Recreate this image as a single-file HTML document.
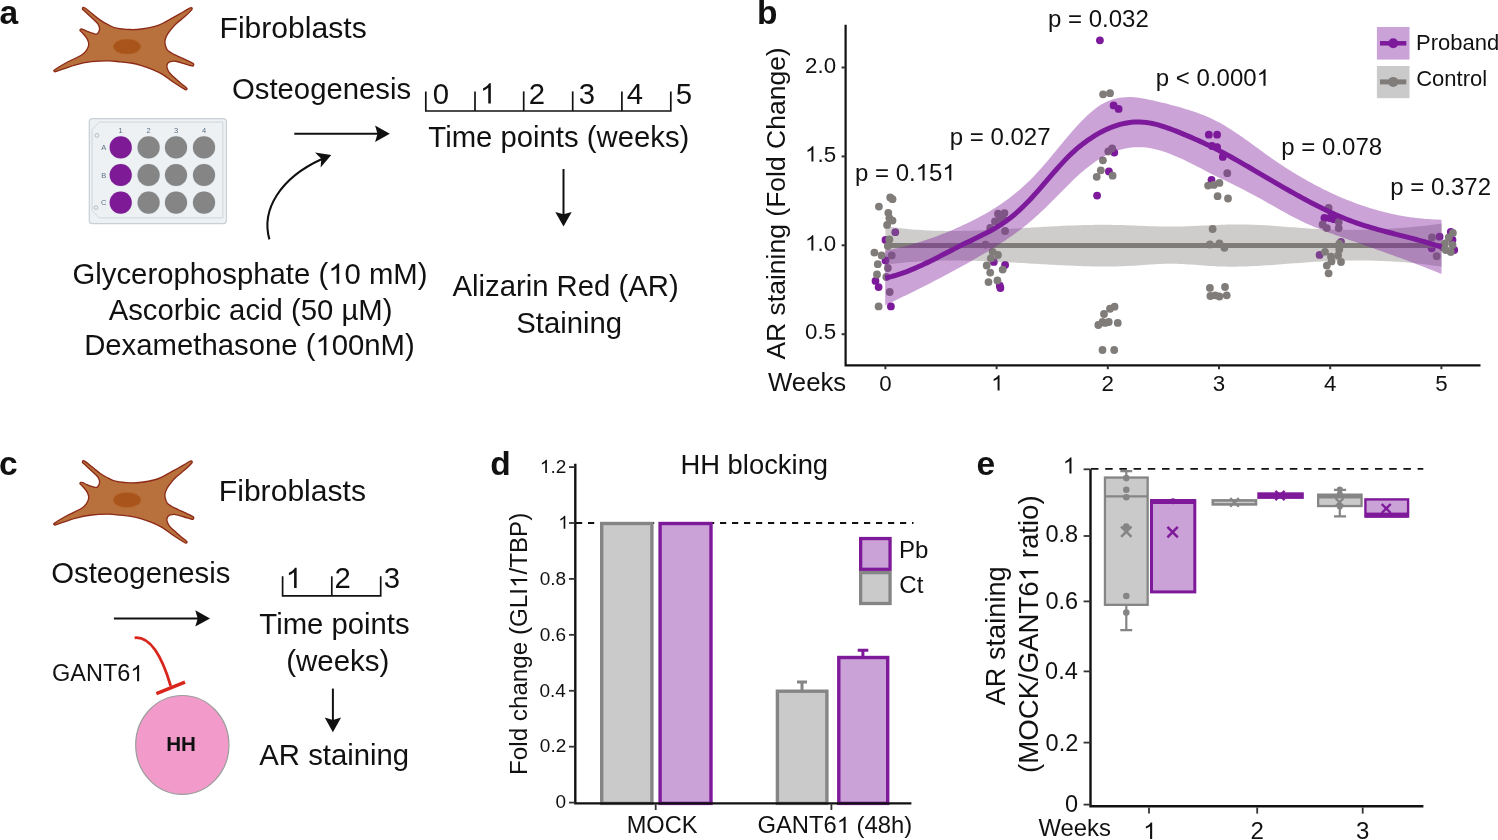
<!DOCTYPE html>
<html><head><meta charset="utf-8"><title>Figure</title>
<style>
html,body{margin:0;padding:0;background:#fff;}
body{width:1498px;height:840px;overflow:hidden;}
svg{display:block;font-family:"Liberation Sans",sans-serif;will-change:transform;}
</style></head>
<body>
<svg width="1498" height="840" viewBox="0 0 1498 840">
<rect width="1498" height="840" fill="#fff"/>
<text x="-0.60" y="23.90" font-size="33.5" font-weight="bold" fill="#111111">a</text>
<g transform="translate(40,0) scale(0.13351)">
<path d="M318,68 C319.0,64.7 315.2,46.5 337,60 C358.8,73.5 419.8,128.0 449,149 C478.2,170.0 491.2,175.7 512,186 C532.8,196.3 547.0,205.2 574,211 C601.0,216.8 643.0,220.0 674,221 C705.0,222.0 729.0,220.8 760,217 C791.0,213.2 833.3,205.2 860,198 C886.7,190.8 900.0,183.5 920,174 C940.0,164.5 960.0,152.0 980,141 C1000.0,130.0 1021.3,118.5 1040,108 C1058.7,97.5 1077.7,86.2 1092,78 C1106.3,69.8 1118.2,61.8 1126,59 C1133.8,56.2 1137.7,58.2 1139,61 C1140.3,63.8 1143.0,65.5 1134,76 C1125.0,86.5 1104.7,106.5 1085,124 C1065.3,141.5 1034.8,163.0 1016,181 C997.2,199.0 983.0,218.0 972,232 C961.0,246.0 955.8,253.7 950,265 C944.2,276.3 939.2,289.2 937,300 C934.8,310.8 934.3,317.7 937,330 C939.7,342.3 945.0,362.8 953,374 C961.0,385.2 974.5,390.5 985,397 C995.5,403.5 1000.2,405.3 1016,413 C1031.8,420.7 1060.7,434.0 1080,443 C1099.3,452.0 1120.5,461.3 1132,467 C1143.5,472.7 1146.0,473.3 1149,477 C1152.0,480.7 1151.7,486.2 1150,489 C1148.3,491.8 1150.7,496.0 1139,494 C1127.3,492.0 1100.5,482.8 1080,477 C1059.5,471.2 1033.2,461.7 1016,459 C998.8,456.3 986.3,459.0 977,461 C967.7,463.0 964.3,466.2 960,471 C955.7,475.8 952.2,483.2 951,490 C949.8,496.8 949.8,502.8 953,512 C956.2,521.2 962.2,534.5 970,545 C977.8,555.5 986.7,562.5 1000,575 C1013.3,587.5 1035.3,607.5 1050,620 C1064.7,632.5 1079.5,643.0 1088,650 C1096.5,657.0 1099.7,658.5 1101,662 C1102.3,665.5 1099.2,670.0 1096,671 C1092.8,672.0 1098.0,677.2 1082,668 C1066.0,658.8 1027.0,634.2 1000,616 C973.0,597.8 946.7,575.0 920,559 C893.3,543.0 866.7,531.3 840,520 C813.3,508.7 786.7,499.0 760,491 C733.3,483.0 706.8,476.7 680,472 C653.2,467.3 627.0,465.7 599,463 C571.0,460.3 547.3,456.2 512,456 C476.7,455.8 428.7,456.8 387,462 C345.3,467.2 305.2,475.2 262,487 C218.8,498.8 153.3,525.2 128,533 C102.7,540.8 113.0,535.7 110,534 C107.0,532.3 95.0,534.0 110,523 C125.0,512.0 166.3,486.5 200,468 C233.7,449.5 287.0,427.7 312,412 C337.0,396.3 341.2,387.5 350,374 C358.8,360.5 364.7,345.2 365,331 C365.3,316.8 360.3,303.7 352,289 C343.7,274.3 323.7,253.0 315,243 C306.3,233.0 301.7,233.2 300,229 C298.3,224.8 301.7,219.5 305,218 C308.3,216.5 311.5,217.0 320,220 C328.5,223.0 340.7,230.2 356,236 C371.3,241.8 399.3,252.7 412,255 C424.7,257.3 426.3,255.5 432,250 C437.7,244.5 444.5,231.7 446,222 C447.5,212.3 444.5,201.0 441,192 C437.5,183.0 436.0,179.8 425,168 C414.0,156.2 390.7,135.7 375,121 C359.3,106.3 340.5,88.8 331,80 C321.5,71.2 317.0,71.3 318,68 Z" fill="#B8703D" stroke="#8C2A17" stroke-width="10" stroke-linejoin="round"/>
<ellipse cx="652" cy="349" rx="103" ry="56" fill="#A9541B" stroke="#B26322" stroke-width="5"/>
</g>
<text x="219.52" y="38.00" font-size="30.1" fill="#111111">Fibroblasts</text>
<g>
<rect x="89.3" y="118.6" width="137.1" height="105" rx="3" fill="#EEF1F3" stroke="#C8D0D5" stroke-width="1.2"/>
<path d="M99.3,122.1 L222.9,122.1 L222.9,217.9 L99.3,217.9 L92.1,210.5 L92.1,129.5 Z" fill="none" stroke="#CFD6DA" stroke-width="1"/>
<circle cx="96.9" cy="135.4" r="1.9" fill="none" stroke="#9AA7B0" stroke-width="0.7"/>
<circle cx="96" cy="207.6" r="1.9" fill="none" stroke="#9AA7B0" stroke-width="0.7"/>
<text x="120.7" y="133" font-size="7.5" text-anchor="middle" fill="#5C7184">1</text>
<text x="148.6" y="133" font-size="7.5" text-anchor="middle" fill="#5C7184">2</text>
<text x="176" y="133" font-size="7.5" text-anchor="middle" fill="#5C7184">3</text>
<text x="204" y="133" font-size="7.5" text-anchor="middle" fill="#5C7184">4</text>
<text x="103.8" y="150.1" font-size="7.5" text-anchor="middle" fill="#5C7184">A</text>
<circle cx="120.7" cy="147.4" r="11.6" fill="#DDE5EA"/>
<circle cx="120.7" cy="147.4" r="11.1" fill="#7E1A96"/>
<circle cx="148.6" cy="147.4" r="11.6" fill="#DDE5EA"/>
<circle cx="148.6" cy="147.4" r="11.1" fill="#858585"/>
<circle cx="176" cy="147.4" r="11.6" fill="#DDE5EA"/>
<circle cx="176" cy="147.4" r="11.1" fill="#858585"/>
<circle cx="204" cy="147.4" r="11.6" fill="#DDE5EA"/>
<circle cx="204" cy="147.4" r="11.1" fill="#858585"/>
<text x="103.8" y="177.7" font-size="7.5" text-anchor="middle" fill="#5C7184">B</text>
<circle cx="120.7" cy="175" r="11.6" fill="#DDE5EA"/>
<circle cx="120.7" cy="175" r="11.1" fill="#7E1A96"/>
<circle cx="148.6" cy="175" r="11.6" fill="#DDE5EA"/>
<circle cx="148.6" cy="175" r="11.1" fill="#858585"/>
<circle cx="176" cy="175" r="11.6" fill="#DDE5EA"/>
<circle cx="176" cy="175" r="11.1" fill="#858585"/>
<circle cx="204" cy="175" r="11.6" fill="#DDE5EA"/>
<circle cx="204" cy="175" r="11.1" fill="#858585"/>
<text x="103.8" y="205.29999999999998" font-size="7.5" text-anchor="middle" fill="#5C7184">C</text>
<circle cx="120.7" cy="202.6" r="11.6" fill="#DDE5EA"/>
<circle cx="120.7" cy="202.6" r="11.1" fill="#7E1A96"/>
<circle cx="148.6" cy="202.6" r="11.6" fill="#DDE5EA"/>
<circle cx="148.6" cy="202.6" r="11.1" fill="#858585"/>
<circle cx="176" cy="202.6" r="11.6" fill="#DDE5EA"/>
<circle cx="176" cy="202.6" r="11.1" fill="#858585"/>
<circle cx="204" cy="202.6" r="11.6" fill="#DDE5EA"/>
<circle cx="204" cy="202.6" r="11.1" fill="#858585"/>
</g>
<text x="232.01" y="98.80" font-size="29.3" fill="#111111">Osteogenesis</text>
<path d="M425.8,91.4 L425.8,111 L670.8,111 L670.8,91.4" fill="none" stroke="#111" stroke-width="1.7"/>
<line x1="475" y1="91.4" x2="475" y2="111" stroke="#111" stroke-width="1.7"/>
<line x1="523.7" y1="91.4" x2="523.7" y2="111" stroke="#111" stroke-width="1.7"/>
<line x1="572.7" y1="91.4" x2="572.7" y2="111" stroke="#111" stroke-width="1.7"/>
<line x1="621.9" y1="91.4" x2="621.9" y2="111" stroke="#111" stroke-width="1.7"/>
<text x="432.83" y="103.50" font-size="29.3" fill="#111111">0</text>
<text x="479.92" y="103.50" font-size="29.3" fill="#111111"> </text>
<path d="M763,0 L583,0 L583,1098 C540,1058 480,1018 412,979 C344,940 276,910 222,890 L222,1057 C320,1101 406,1156 486,1221 C566,1286 622,1349 646,1409 L763,1409 Z" transform="translate(479.92,103.50) scale(0.01431,-0.01431)" fill="#111111"/>
<text x="528.63" y="103.50" font-size="29.3" fill="#111111">2</text>
<text x="578.70" y="103.50" font-size="29.3" fill="#111111">3</text>
<text x="626.84" y="103.50" font-size="29.3" fill="#111111">4</text>
<text x="675.83" y="103.50" font-size="29.3" fill="#111111">5</text>
<line x1="294.3" y1="133.7" x2="378.5" y2="133.7" stroke="#111" stroke-width="2.0"/>
<path d="M389.8,133.7 L375.1,125.49999999999999 L377.5,133.7 L375.1,141.89999999999998 Z" fill="#111"/>
<text x="428.34" y="146.60" font-size="29.3" fill="#111111">Time points (weeks)</text>
<line x1="563.5" y1="169" x2="563.5" y2="215.3" stroke="#111" stroke-width="2.0"/>
<path d="M563.5,226.6 L555.3,211.9 L563.5,214.3 L571.7,211.9 Z" fill="#111"/>
<text x="452.43" y="296.40" font-size="29.3" fill="#111111">Alizarin Red (AR)</text>
<text x="516.28" y="332.60" font-size="29.3" fill="#111111">Staining</text>
<path d="M269.4,239.4 C261,210 280,178 322,159" fill="none" stroke="#111" stroke-width="2.1"/>
<path d="M331.3,155 L315,152.5 L321.3,158.8 L320.6,167.5 Z" fill="#111"/>
<text x="72.53" y="283.70" font-size="29.3" fill="#111111">Glycerophosphate ( 0 mM)</text>
<path d="M763,0 L583,0 L583,1098 C540,1058 480,1018 412,979 C344,940 276,910 222,890 L222,1057 C320,1101 406,1156 486,1221 C566,1286 622,1349 646,1409 L763,1409 Z" transform="translate(328.25,283.70) scale(0.01431,-0.01431)" fill="#111111"/>
<text x="108.63" y="319.80" font-size="29.3" fill="#111111">Ascorbic acid (50 µM)</text>
<text x="84.18" y="355.30" font-size="29.3" fill="#111111">Dexamethasone ( 00nM)</text>
<path d="M763,0 L583,0 L583,1098 C540,1058 480,1018 412,979 C344,940 276,910 222,890 L222,1057 C320,1101 406,1156 486,1221 C566,1286 622,1349 646,1409 L763,1409 Z" transform="translate(315.46,355.30) scale(0.01431,-0.01431)" fill="#111111"/>
<text x="757.12" y="24.30" font-size="33.5" font-weight="bold" fill="#111111">b</text>
<g>
<circle cx="895.3" cy="232.2" r="3.9" fill="#7C1A9B"/>
<circle cx="885.5" cy="239.9" r="3.9" fill="#7C1A9B"/>
<circle cx="885.5" cy="260.5" r="3.9" fill="#7C1A9B"/>
<circle cx="875.5" cy="280.9" r="3.9" fill="#7C1A9B"/>
<circle cx="878.6" cy="287.1" r="3.9" fill="#7C1A9B"/>
<circle cx="890.9" cy="306.4" r="3.9" fill="#7C1A9B"/>
<circle cx="993.8" cy="261.9" r="3.9" fill="#7C1A9B"/>
<circle cx="1005.1" cy="264.9" r="3.9" fill="#7C1A9B"/>
<circle cx="999.8" cy="285.7" r="3.9" fill="#7C1A9B"/>
<circle cx="1000.4" cy="288" r="3.9" fill="#7C1A9B"/>
<circle cx="1099.9" cy="40.3" r="3.9" fill="#7C1A9B"/>
<circle cx="1113.6" cy="105.4" r="3.9" fill="#7C1A9B"/>
<circle cx="1118.6" cy="108.9" r="3.9" fill="#7C1A9B"/>
<circle cx="1114.3" cy="152.6" r="3.9" fill="#7C1A9B"/>
<circle cx="1108.9" cy="171.4" r="3.9" fill="#7C1A9B"/>
<circle cx="1097.1" cy="195.6" r="3.9" fill="#7C1A9B"/>
<circle cx="1208.8" cy="134.7" r="3.9" fill="#7C1A9B"/>
<circle cx="1217.1" cy="134.7" r="3.9" fill="#7C1A9B"/>
<circle cx="1212" cy="146" r="3.9" fill="#7C1A9B"/>
<circle cx="1217.1" cy="147.1" r="3.9" fill="#7C1A9B"/>
<circle cx="1222.8" cy="156.9" r="3.9" fill="#7C1A9B"/>
<circle cx="1211.5" cy="180" r="3.9" fill="#7C1A9B"/>
<circle cx="1324.4" cy="218" r="3.9" fill="#7C1A9B"/>
<circle cx="1329.8" cy="218" r="3.9" fill="#7C1A9B"/>
<circle cx="1333.9" cy="219.2" r="3.9" fill="#7C1A9B"/>
<circle cx="1341" cy="241.8" r="3.9" fill="#7C1A9B"/>
<circle cx="1319.6" cy="254.9" r="3.9" fill="#7C1A9B"/>
<circle cx="1439.6" cy="236.7" r="3.9" fill="#7C1A9B"/>
<circle cx="1450.8" cy="232" r="3.9" fill="#7C1A9B"/>
<circle cx="1452.5" cy="240" r="3.9" fill="#7C1A9B"/>
<circle cx="1454.2" cy="250" r="3.9" fill="#7C1A9B"/>
<circle cx="1431.7" cy="248.3" r="3.9" fill="#7C1A9B"/>
<circle cx="890.2" cy="197.4" r="3.9" fill="#807C7A"/>
<circle cx="892.5" cy="199.2" r="3.9" fill="#807C7A"/>
<circle cx="878.9" cy="206.6" r="3.9" fill="#807C7A"/>
<circle cx="888.3" cy="212.8" r="3.9" fill="#807C7A"/>
<circle cx="889.4" cy="218.2" r="3.9" fill="#807C7A"/>
<circle cx="892.5" cy="220.6" r="3.9" fill="#807C7A"/>
<circle cx="887.1" cy="224.9" r="3.9" fill="#807C7A"/>
<circle cx="889.4" cy="239.4" r="3.9" fill="#807C7A"/>
<circle cx="887.8" cy="246.1" r="3.9" fill="#807C7A"/>
<circle cx="874.4" cy="252.6" r="3.9" fill="#807C7A"/>
<circle cx="881.6" cy="255.4" r="3.9" fill="#807C7A"/>
<circle cx="891.7" cy="255.4" r="3.9" fill="#807C7A"/>
<circle cx="877.8" cy="264.2" r="3.9" fill="#807C7A"/>
<circle cx="887.8" cy="268" r="3.9" fill="#807C7A"/>
<circle cx="877" cy="274.4" r="3.9" fill="#807C7A"/>
<circle cx="886.3" cy="277" r="3.9" fill="#807C7A"/>
<circle cx="889.7" cy="292" r="3.9" fill="#807C7A"/>
<circle cx="878.6" cy="306.4" r="3.9" fill="#807C7A"/>
<circle cx="998" cy="213.7" r="3.9" fill="#807C7A"/>
<circle cx="1004.5" cy="213.1" r="3.9" fill="#807C7A"/>
<circle cx="995" cy="221.4" r="3.9" fill="#807C7A"/>
<circle cx="999.8" cy="219" r="3.9" fill="#807C7A"/>
<circle cx="1003.9" cy="219.6" r="3.9" fill="#807C7A"/>
<circle cx="990.2" cy="228" r="3.9" fill="#807C7A"/>
<circle cx="1005.1" cy="231" r="3.9" fill="#807C7A"/>
<circle cx="985.5" cy="244.6" r="3.9" fill="#807C7A"/>
<circle cx="992.6" cy="251.8" r="3.9" fill="#807C7A"/>
<circle cx="998" cy="255" r="3.9" fill="#807C7A"/>
<circle cx="990.8" cy="258.3" r="3.9" fill="#807C7A"/>
<circle cx="986.7" cy="265.5" r="3.9" fill="#807C7A"/>
<circle cx="1002.7" cy="269.6" r="3.9" fill="#807C7A"/>
<circle cx="990.2" cy="272.6" r="3.9" fill="#807C7A"/>
<circle cx="988.5" cy="282.1" r="3.9" fill="#807C7A"/>
<circle cx="997.4" cy="280.4" r="3.9" fill="#807C7A"/>
<circle cx="1103.1" cy="94.3" r="3.9" fill="#807C7A"/>
<circle cx="1110" cy="93.2" r="3.9" fill="#807C7A"/>
<circle cx="1112.1" cy="148.3" r="3.9" fill="#807C7A"/>
<circle cx="1108.3" cy="151.5" r="3.9" fill="#807C7A"/>
<circle cx="1102.9" cy="160.3" r="3.9" fill="#807C7A"/>
<circle cx="1100.8" cy="170.3" r="3.9" fill="#807C7A"/>
<circle cx="1096.7" cy="176.8" r="3.9" fill="#807C7A"/>
<circle cx="1112.6" cy="175.7" r="3.9" fill="#807C7A"/>
<circle cx="1114.6" cy="306.7" r="3.9" fill="#807C7A"/>
<circle cx="1110" cy="308.75" r="3.9" fill="#807C7A"/>
<circle cx="1104" cy="314" r="3.9" fill="#807C7A"/>
<circle cx="1098.3" cy="325" r="3.9" fill="#807C7A"/>
<circle cx="1102.5" cy="322" r="3.9" fill="#807C7A"/>
<circle cx="1105" cy="322.9" r="3.9" fill="#807C7A"/>
<circle cx="1108.75" cy="322" r="3.9" fill="#807C7A"/>
<circle cx="1117.75" cy="322.9" r="3.9" fill="#807C7A"/>
<circle cx="1102.5" cy="350" r="3.9" fill="#807C7A"/>
<circle cx="1114.2" cy="350" r="3.9" fill="#807C7A"/>
<circle cx="1227.3" cy="173.2" r="3.9" fill="#807C7A"/>
<circle cx="1208.1" cy="185.6" r="3.9" fill="#807C7A"/>
<circle cx="1213.8" cy="184.9" r="3.9" fill="#807C7A"/>
<circle cx="1219.4" cy="182.9" r="3.9" fill="#807C7A"/>
<circle cx="1217.6" cy="196.2" r="3.9" fill="#807C7A"/>
<circle cx="1228" cy="198.5" r="3.9" fill="#807C7A"/>
<circle cx="1212.6" cy="229" r="3.9" fill="#807C7A"/>
<circle cx="1209.9" cy="244.4" r="3.9" fill="#807C7A"/>
<circle cx="1219.4" cy="243.3" r="3.9" fill="#807C7A"/>
<circle cx="1224.4" cy="247.8" r="3.9" fill="#807C7A"/>
<circle cx="1209.9" cy="287.9" r="3.9" fill="#807C7A"/>
<circle cx="1225" cy="287" r="3.9" fill="#807C7A"/>
<circle cx="1210.4" cy="296" r="3.9" fill="#807C7A"/>
<circle cx="1215.3" cy="295.3" r="3.9" fill="#807C7A"/>
<circle cx="1219.4" cy="296.5" r="3.9" fill="#807C7A"/>
<circle cx="1226.7" cy="295.3" r="3.9" fill="#807C7A"/>
<circle cx="1328.6" cy="207.9" r="3.9" fill="#807C7A"/>
<circle cx="1322.6" cy="224.5" r="3.9" fill="#807C7A"/>
<circle cx="1326.8" cy="228.1" r="3.9" fill="#807C7A"/>
<circle cx="1338.7" cy="222.1" r="3.9" fill="#807C7A"/>
<circle cx="1338.7" cy="228.1" r="3.9" fill="#807C7A"/>
<circle cx="1339.3" cy="243.6" r="3.9" fill="#807C7A"/>
<circle cx="1325" cy="251.9" r="3.9" fill="#807C7A"/>
<circle cx="1339.3" cy="249.5" r="3.9" fill="#807C7A"/>
<circle cx="1331" cy="256.7" r="3.9" fill="#807C7A"/>
<circle cx="1338.1" cy="255.5" r="3.9" fill="#807C7A"/>
<circle cx="1331.5" cy="261.4" r="3.9" fill="#807C7A"/>
<circle cx="1341" cy="262" r="3.9" fill="#807C7A"/>
<circle cx="1326.8" cy="265.6" r="3.9" fill="#807C7A"/>
<circle cx="1328.6" cy="273.3" r="3.9" fill="#807C7A"/>
<circle cx="1432" cy="237.5" r="3.9" fill="#807C7A"/>
<circle cx="1452.9" cy="232.9" r="3.9" fill="#807C7A"/>
<circle cx="1448.75" cy="237.5" r="3.9" fill="#807C7A"/>
<circle cx="1445" cy="243.3" r="3.9" fill="#807C7A"/>
<circle cx="1452.5" cy="245" r="3.9" fill="#807C7A"/>
<circle cx="1445.8" cy="250" r="3.9" fill="#807C7A"/>
<circle cx="1450.8" cy="252" r="3.9" fill="#807C7A"/>
<circle cx="1436.7" cy="256.25" r="3.9" fill="#807C7A"/>
<circle cx="1443.3" cy="247.5" r="3.9" fill="#807C7A"/>
</g>
<path d="M885.40,226.09 L888.40,226.56 L891.40,227.01 L894.40,227.43 L897.40,227.82 L900.40,228.19 L903.40,228.53 L906.40,228.84 L909.40,229.13 L912.40,229.40 L915.40,229.64 L918.40,229.86 L921.40,230.06 L924.40,230.23 L927.40,230.39 L930.40,230.53 L933.40,230.64 L936.40,230.74 L939.40,230.81 L942.40,230.87 L945.40,230.92 L948.40,230.94 L951.40,230.95 L954.40,230.95 L957.40,230.93 L960.40,230.90 L963.40,230.85 L966.40,230.79 L969.40,230.72 L972.40,230.64 L975.40,230.54 L978.40,230.44 L981.40,230.32 L984.40,230.20 L987.40,230.07 L990.40,229.93 L993.40,229.78 L996.40,229.63 L999.40,229.47 L1002.40,229.30 L1005.40,229.14 L1008.40,228.96 L1011.40,228.79 L1014.40,228.61 L1017.40,228.42 L1020.40,228.24 L1023.40,228.06 L1026.40,227.87 L1029.40,227.69 L1032.40,227.51 L1035.40,227.33 L1038.40,227.15 L1041.40,226.97 L1044.40,226.80 L1047.40,226.63 L1050.40,226.46 L1053.40,226.31 L1056.40,226.15 L1059.40,226.01 L1062.40,225.86 L1065.40,225.73 L1068.40,225.60 L1071.40,225.49 L1074.40,225.38 L1077.40,225.27 L1080.40,225.18 L1083.40,225.10 L1086.40,225.03 L1089.40,224.96 L1092.40,224.91 L1095.40,224.87 L1098.40,224.84 L1101.40,224.83 L1104.40,224.83 L1107.40,224.84 L1110.40,224.86 L1113.40,224.90 L1116.40,224.95 L1119.40,225.01 L1122.40,225.10 L1125.40,225.19 L1128.40,225.30 L1131.40,225.41 L1134.40,225.54 L1137.40,225.66 L1140.40,225.79 L1143.40,225.91 L1146.40,226.04 L1149.40,226.15 L1152.40,226.26 L1155.40,226.36 L1158.40,226.44 L1161.40,226.51 L1164.40,226.56 L1167.40,226.59 L1170.40,226.60 L1173.40,226.59 L1176.40,226.55 L1179.40,226.49 L1182.40,226.42 L1185.40,226.32 L1188.40,226.22 L1191.40,226.10 L1194.40,225.97 L1197.40,225.84 L1200.40,225.70 L1203.40,225.56 L1206.40,225.42 L1209.40,225.28 L1212.40,225.14 L1215.40,225.01 L1218.40,224.88 L1221.40,224.77 L1224.40,224.67 L1227.40,224.58 L1230.40,224.51 L1233.40,224.45 L1236.40,224.42 L1239.40,224.41 L1242.40,224.43 L1245.40,224.47 L1248.40,224.54 L1251.40,224.63 L1254.40,224.74 L1257.40,224.88 L1260.40,225.03 L1263.40,225.19 L1266.40,225.37 L1269.40,225.57 L1272.40,225.77 L1275.40,225.99 L1278.40,226.21 L1281.40,226.44 L1284.40,226.67 L1287.40,226.90 L1290.40,227.14 L1293.40,227.37 L1296.40,227.61 L1299.40,227.83 L1302.40,228.06 L1305.40,228.27 L1308.40,228.47 L1311.40,228.66 L1314.40,228.84 L1317.40,229.01 L1320.40,229.16 L1323.40,229.29 L1326.40,229.42 L1329.40,229.52 L1332.40,229.62 L1335.40,229.69 L1338.40,229.76 L1341.40,229.81 L1344.40,229.84 L1347.40,229.86 L1350.40,229.87 L1353.40,229.86 L1356.40,229.84 L1359.40,229.81 L1362.40,229.76 L1365.40,229.70 L1368.40,229.62 L1371.40,229.53 L1374.40,229.43 L1377.40,229.31 L1380.40,229.18 L1383.40,229.04 L1386.40,228.88 L1389.40,228.71 L1392.40,228.53 L1395.40,228.33 L1398.40,228.12 L1401.40,227.89 L1404.40,227.66 L1407.40,227.40 L1410.40,227.14 L1413.40,226.86 L1416.40,226.58 L1419.40,226.27 L1422.40,225.96 L1425.40,225.63 L1428.40,225.29 L1431.40,224.93 L1434.40,224.57 L1437.40,224.19 L1440.40,223.80 L1441.70,223.62 L1441.70,266.77 L1440.40,266.56 L1437.40,266.10 L1434.40,265.66 L1431.40,265.24 L1428.40,264.84 L1425.40,264.46 L1422.40,264.10 L1419.40,263.75 L1416.40,263.43 L1413.40,263.12 L1410.40,262.83 L1407.40,262.56 L1404.40,262.30 L1401.40,262.07 L1398.40,261.85 L1395.40,261.65 L1392.40,261.46 L1389.40,261.29 L1386.40,261.14 L1383.40,261.01 L1380.40,260.89 L1377.40,260.78 L1374.40,260.70 L1371.40,260.62 L1368.40,260.57 L1365.40,260.52 L1362.40,260.49 L1359.40,260.48 L1356.40,260.48 L1353.40,260.50 L1350.40,260.53 L1347.40,260.57 L1344.40,260.62 L1341.40,260.69 L1338.40,260.77 L1335.40,260.87 L1332.40,260.98 L1329.40,261.10 L1326.40,261.23 L1323.40,261.37 L1320.40,261.53 L1317.40,261.69 L1314.40,261.87 L1311.40,262.06 L1308.40,262.26 L1305.40,262.47 L1302.40,262.68 L1299.40,262.90 L1296.40,263.13 L1293.40,263.36 L1290.40,263.59 L1287.40,263.82 L1284.40,264.05 L1281.40,264.28 L1278.40,264.51 L1275.40,264.73 L1272.40,264.95 L1269.40,265.16 L1266.40,265.36 L1263.40,265.55 L1260.40,265.73 L1257.40,265.90 L1254.40,266.06 L1251.40,266.20 L1248.40,266.33 L1245.40,266.43 L1242.40,266.52 L1239.40,266.59 L1236.40,266.64 L1233.40,266.66 L1230.40,266.67 L1227.40,266.64 L1224.40,266.59 L1221.40,266.51 L1218.40,266.40 L1215.40,266.27 L1212.40,266.10 L1209.40,265.91 L1206.40,265.71 L1203.40,265.49 L1200.40,265.27 L1197.40,265.04 L1194.40,264.82 L1191.40,264.61 L1188.40,264.41 L1185.40,264.22 L1182.40,264.06 L1179.40,263.93 L1176.40,263.82 L1173.40,263.76 L1170.40,263.74 L1167.40,263.76 L1164.40,263.83 L1161.40,263.93 L1158.40,264.07 L1155.40,264.23 L1152.40,264.42 L1149.40,264.62 L1146.40,264.83 L1143.40,265.04 L1140.40,265.26 L1137.40,265.46 L1134.40,265.66 L1131.40,265.83 L1128.40,265.99 L1125.40,266.12 L1122.40,266.23 L1119.40,266.33 L1116.40,266.40 L1113.40,266.46 L1110.40,266.50 L1107.40,266.52 L1104.40,266.52 L1101.40,266.51 L1098.40,266.49 L1095.40,266.45 L1092.40,266.40 L1089.40,266.33 L1086.40,266.25 L1083.40,266.17 L1080.40,266.07 L1077.40,265.96 L1074.40,265.84 L1071.40,265.72 L1068.40,265.58 L1065.40,265.44 L1062.40,265.30 L1059.40,265.15 L1056.40,264.99 L1053.40,264.83 L1050.40,264.67 L1047.40,264.50 L1044.40,264.33 L1041.40,264.16 L1038.40,263.99 L1035.40,263.81 L1032.40,263.64 L1029.40,263.46 L1026.40,263.29 L1023.40,263.11 L1020.40,262.94 L1017.40,262.77 L1014.40,262.60 L1011.40,262.44 L1008.40,262.28 L1005.40,262.12 L1002.40,261.97 L999.40,261.82 L996.40,261.67 L993.40,261.54 L990.40,261.41 L987.40,261.28 L984.40,261.16 L981.40,261.06 L978.40,260.96 L975.40,260.86 L972.40,260.78 L969.40,260.71 L966.40,260.65 L963.40,260.60 L960.40,260.56 L957.40,260.53 L954.40,260.51 L951.40,260.51 L948.40,260.52 L945.40,260.55 L942.40,260.59 L939.40,260.64 L936.40,260.71 L933.40,260.80 L930.40,260.90 L927.40,261.02 L924.40,261.15 L921.40,261.31 L918.40,261.48 L915.40,261.67 L912.40,261.88 L909.40,262.11 L906.40,262.37 L903.40,262.64 L900.40,262.93 L897.40,263.25 L894.40,263.59 L891.40,263.95 L888.40,264.33 L885.40,264.74 Z" fill="rgba(128,124,122,0.385)"/>
<line x1="885.4" y1="245.4" x2="1441.7" y2="245.4" stroke="#807C7A" stroke-width="5.0"/>
<path d="M885.20,250.58 L888.20,250.02 L891.20,249.42 L894.20,248.79 L897.20,248.13 L900.20,247.43 L903.20,246.70 L906.20,245.93 L909.20,245.13 L912.20,244.29 L915.20,243.42 L918.20,242.52 L921.20,241.59 L924.20,240.62 L927.20,239.62 L930.20,238.58 L933.20,237.51 L936.20,236.41 L939.20,235.28 L942.20,234.12 L945.20,232.92 L948.20,231.70 L951.20,230.44 L954.20,229.15 L957.20,227.83 L960.20,226.47 L963.20,225.09 L966.20,223.68 L969.20,222.23 L972.20,220.75 L975.20,219.23 L978.20,217.68 L981.20,216.07 L984.20,214.42 L987.20,212.71 L990.20,210.94 L993.20,209.12 L996.20,207.22 L999.20,205.26 L1002.20,203.22 L1005.20,201.10 L1008.20,198.91 L1011.20,196.62 L1014.20,194.25 L1017.20,191.78 L1020.20,189.22 L1023.20,186.55 L1026.20,183.78 L1029.20,180.90 L1032.20,177.90 L1035.20,174.79 L1038.20,171.55 L1041.20,168.21 L1044.20,164.78 L1047.20,161.27 L1050.20,157.70 L1053.20,154.09 L1056.20,150.46 L1059.20,146.82 L1062.20,143.19 L1065.20,139.59 L1068.20,136.03 L1071.20,132.53 L1074.20,129.11 L1077.20,125.79 L1080.20,122.57 L1083.20,119.49 L1086.20,116.55 L1089.20,113.77 L1092.20,111.17 L1095.20,108.76 L1098.20,106.57 L1101.20,104.61 L1104.20,102.89 L1107.20,101.43 L1110.20,100.20 L1113.20,99.20 L1116.20,98.41 L1119.20,97.81 L1122.20,97.40 L1125.20,97.16 L1128.20,97.07 L1131.20,97.12 L1134.20,97.30 L1137.20,97.60 L1140.20,97.99 L1143.20,98.47 L1146.20,99.02 L1149.20,99.63 L1152.20,100.28 L1155.20,100.97 L1158.20,101.67 L1161.20,102.38 L1164.20,103.12 L1167.20,103.87 L1170.20,104.65 L1173.20,105.45 L1176.20,106.27 L1179.20,107.12 L1182.20,108.00 L1185.20,108.91 L1188.20,109.85 L1191.20,110.82 L1194.20,111.83 L1197.20,112.87 L1200.20,113.96 L1203.20,115.10 L1206.20,116.30 L1209.20,117.58 L1212.20,118.95 L1215.20,120.40 L1218.20,121.96 L1221.20,123.60 L1224.20,125.33 L1227.20,127.14 L1230.20,129.01 L1233.20,130.95 L1236.20,132.95 L1239.20,134.99 L1242.20,137.07 L1245.20,139.19 L1248.20,141.34 L1251.20,143.51 L1254.20,145.68 L1257.20,147.87 L1260.20,150.05 L1263.20,152.23 L1266.20,154.39 L1269.20,156.53 L1272.20,158.64 L1275.20,160.71 L1278.20,162.75 L1281.20,164.76 L1284.20,166.73 L1287.20,168.66 L1290.20,170.56 L1293.20,172.43 L1296.20,174.25 L1299.20,176.05 L1302.20,177.81 L1305.20,179.53 L1308.20,181.22 L1311.20,182.87 L1314.20,184.49 L1317.20,186.07 L1320.20,187.62 L1323.20,189.13 L1326.20,190.61 L1329.20,192.05 L1332.20,193.45 L1335.20,194.82 L1338.20,196.15 L1341.20,197.44 L1344.20,198.70 L1347.20,199.93 L1350.20,201.12 L1353.20,202.27 L1356.20,203.38 L1359.20,204.46 L1362.20,205.50 L1365.20,206.51 L1368.20,207.48 L1371.20,208.41 L1374.20,209.31 L1377.20,210.17 L1380.20,210.99 L1383.20,211.78 L1386.20,212.53 L1389.20,213.24 L1392.20,213.91 L1395.20,214.55 L1398.20,215.15 L1401.20,215.72 L1404.20,216.24 L1407.20,216.73 L1410.20,217.19 L1413.20,217.60 L1416.20,217.98 L1419.20,218.32 L1422.20,218.62 L1425.20,218.89 L1428.20,219.11 L1431.20,219.30 L1434.20,219.46 L1437.20,219.57 L1440.20,219.65 L1441.50,219.67 L1441.50,273.93 L1440.20,273.40 L1437.20,272.20 L1434.20,271.00 L1431.20,269.81 L1428.20,268.63 L1425.20,267.46 L1422.20,266.30 L1419.20,265.14 L1416.20,264.00 L1413.20,262.85 L1410.20,261.72 L1407.20,260.59 L1404.20,259.47 L1401.20,258.36 L1398.20,257.25 L1395.20,256.15 L1392.20,255.06 L1389.20,253.97 L1386.20,252.88 L1383.20,251.80 L1380.20,250.73 L1377.20,249.66 L1374.20,248.59 L1371.20,247.53 L1368.20,246.47 L1365.20,245.42 L1362.20,244.37 L1359.20,243.32 L1356.20,242.28 L1353.20,241.24 L1350.20,240.20 L1347.20,239.16 L1344.20,238.12 L1341.20,237.08 L1338.20,236.02 L1335.20,234.95 L1332.20,233.87 L1329.20,232.77 L1326.20,231.65 L1323.20,230.50 L1320.20,229.32 L1317.20,228.12 L1314.20,226.88 L1311.20,225.60 L1308.20,224.28 L1305.20,222.92 L1302.20,221.51 L1299.20,220.05 L1296.20,218.55 L1293.20,216.99 L1290.20,215.40 L1287.20,213.77 L1284.20,212.12 L1281.20,210.44 L1278.20,208.75 L1275.20,207.05 L1272.20,205.34 L1269.20,203.63 L1266.20,201.93 L1263.20,200.24 L1260.20,198.57 L1257.20,196.92 L1254.20,195.30 L1251.20,193.71 L1248.20,192.14 L1245.20,190.59 L1242.20,189.06 L1239.20,187.55 L1236.20,186.05 L1233.20,184.56 L1230.20,183.07 L1227.20,181.59 L1224.20,180.11 L1221.20,178.64 L1218.20,177.15 L1215.20,175.66 L1212.20,174.17 L1209.20,172.66 L1206.20,171.13 L1203.20,169.60 L1200.20,168.06 L1197.20,166.52 L1194.20,164.99 L1191.20,163.48 L1188.20,161.99 L1185.20,160.53 L1182.20,159.11 L1179.20,157.74 L1176.20,156.41 L1173.20,155.15 L1170.20,153.95 L1167.20,152.83 L1164.20,151.78 L1161.20,150.83 L1158.20,149.97 L1155.20,149.21 L1152.20,148.56 L1149.20,148.02 L1146.20,147.61 L1143.20,147.33 L1140.20,147.18 L1137.20,147.18 L1134.20,147.31 L1131.20,147.59 L1128.20,148.00 L1125.20,148.55 L1122.20,149.25 L1119.20,150.08 L1116.20,151.05 L1113.20,152.17 L1110.20,153.42 L1107.20,154.81 L1104.20,156.35 L1101.20,158.02 L1098.20,159.84 L1095.20,161.79 L1092.20,163.89 L1089.20,166.13 L1086.20,168.50 L1083.20,171.00 L1080.20,173.62 L1077.20,176.33 L1074.20,179.12 L1071.20,181.99 L1068.20,184.92 L1065.20,187.89 L1062.20,190.90 L1059.20,193.93 L1056.20,196.97 L1053.20,200.00 L1050.20,203.02 L1047.20,206.00 L1044.20,208.94 L1041.20,211.82 L1038.20,214.64 L1035.20,217.37 L1032.20,220.00 L1029.20,222.55 L1026.20,225.02 L1023.20,227.41 L1020.20,229.73 L1017.20,231.98 L1014.20,234.16 L1011.20,236.29 L1008.20,238.36 L1005.20,240.39 L1002.20,242.37 L999.20,244.31 L996.20,246.22 L993.20,248.10 L990.20,249.95 L987.20,251.77 L984.20,253.56 L981.20,255.33 L978.20,257.08 L975.20,258.81 L972.20,260.52 L969.20,262.21 L966.20,263.89 L963.20,265.55 L960.20,267.21 L957.20,268.85 L954.20,270.48 L951.20,272.10 L948.20,273.71 L945.20,275.31 L942.20,276.89 L939.20,278.47 L936.20,280.03 L933.20,281.59 L930.20,283.13 L927.20,284.67 L924.20,286.19 L921.20,287.71 L918.20,289.22 L915.20,290.71 L912.20,292.20 L909.20,293.68 L906.20,295.16 L903.20,296.62 L900.20,298.08 L897.20,299.53 L894.20,300.97 L891.20,302.41 L888.20,303.84 L885.20,305.26 Z" fill="rgba(124,26,155,0.40)"/>
<path d="M885.20,277.98 L888.20,277.33 L891.20,276.60 L894.20,275.78 L897.20,274.88 L900.20,273.92 L903.20,272.88 L906.20,271.78 L909.20,270.61 L912.20,269.40 L915.20,268.13 L918.20,266.81 L921.20,265.45 L924.20,264.05 L927.20,262.62 L930.20,261.15 L933.20,259.67 L936.20,258.16 L939.20,256.63 L942.20,255.09 L945.20,253.54 L948.20,251.99 L951.20,250.44 L954.20,248.89 L957.20,247.36 L960.20,245.83 L963.20,244.33 L966.20,242.85 L969.20,241.39 L972.20,239.94 L975.20,238.51 L978.20,237.06 L981.20,235.60 L984.20,234.11 L987.20,232.57 L990.20,230.98 L993.20,229.32 L996.20,227.58 L999.20,225.75 L1002.20,223.81 L1005.20,221.76 L1008.20,219.58 L1011.20,217.26 L1014.20,214.79 L1017.20,212.17 L1020.20,209.42 L1023.20,206.54 L1026.20,203.54 L1029.20,200.43 L1032.20,197.22 L1035.20,193.93 L1038.20,190.55 L1041.20,187.12 L1044.20,183.64 L1047.20,180.15 L1050.20,176.65 L1053.20,173.17 L1056.20,169.74 L1059.20,166.36 L1062.20,163.06 L1065.20,159.87 L1068.20,156.79 L1071.20,153.85 L1074.20,151.07 L1077.20,148.45 L1080.20,145.96 L1083.20,143.62 L1086.20,141.40 L1089.20,139.30 L1092.20,137.32 L1095.20,135.44 L1098.20,133.68 L1101.20,132.03 L1104.20,130.50 L1107.20,129.08 L1110.20,127.79 L1113.20,126.62 L1116.20,125.58 L1119.20,124.66 L1122.20,123.87 L1125.20,123.21 L1128.20,122.69 L1131.20,122.30 L1134.20,122.05 L1137.20,121.93 L1140.20,121.96 L1143.20,122.13 L1146.20,122.45 L1149.20,122.89 L1152.20,123.46 L1155.20,124.14 L1158.20,124.92 L1161.20,125.80 L1164.20,126.75 L1167.20,127.78 L1170.20,128.86 L1173.20,130.00 L1176.20,131.18 L1179.20,132.39 L1182.20,133.62 L1185.20,134.86 L1188.20,136.12 L1191.20,137.40 L1194.20,138.70 L1197.20,140.02 L1200.20,141.37 L1203.20,142.75 L1206.20,144.15 L1209.20,145.60 L1212.20,147.07 L1215.20,148.58 L1218.20,150.12 L1221.20,151.69 L1224.20,153.29 L1227.20,154.91 L1230.20,156.55 L1233.20,158.22 L1236.20,159.90 L1239.20,161.60 L1242.20,163.32 L1245.20,165.05 L1248.20,166.78 L1251.20,168.53 L1254.20,170.29 L1257.20,172.05 L1260.20,173.81 L1263.20,175.57 L1266.20,177.33 L1269.20,179.09 L1272.20,180.85 L1275.20,182.61 L1278.20,184.35 L1281.20,186.09 L1284.20,187.82 L1287.20,189.54 L1290.20,191.25 L1293.20,192.94 L1296.20,194.62 L1299.20,196.29 L1302.20,197.93 L1305.20,199.56 L1308.20,201.16 L1311.20,202.74 L1314.20,204.30 L1317.20,205.84 L1320.20,207.34 L1323.20,208.82 L1326.20,210.27 L1329.20,211.69 L1332.20,213.07 L1335.20,214.42 L1338.20,215.73 L1341.20,217.01 L1344.20,218.25 L1347.20,219.45 L1350.20,220.61 L1353.20,221.72 L1356.20,222.79 L1359.20,223.82 L1362.20,224.81 L1365.20,225.77 L1368.20,226.70 L1371.20,227.59 L1374.20,228.46 L1377.20,229.31 L1380.20,230.14 L1383.20,230.95 L1386.20,231.74 L1389.20,232.52 L1392.20,233.29 L1395.20,234.06 L1398.20,234.82 L1401.20,235.59 L1404.20,236.35 L1407.20,237.12 L1410.20,237.90 L1413.20,238.69 L1416.20,239.49 L1419.20,240.31 L1422.20,241.15 L1425.20,242.01 L1428.20,242.89 L1431.20,243.81 L1434.20,244.75 L1437.20,245.73 L1440.20,246.74 L1441.50,247.19" fill="none" stroke="#7C1A9B" stroke-width="5.0" stroke-linejoin="round"/>
<path d="M845.6,24.7 L845.6,365.4 L1480.5,365.4" fill="none" stroke="#111" stroke-width="2.2"/>
<line x1="841.6" y1="67.50" x2="845.6" y2="67.50" stroke="#333" stroke-width="2"/>
<text x="805.04" y="72.70" font-size="22.3" fill="#111111">2.0</text>
<line x1="841.6" y1="156.40" x2="845.6" y2="156.40" stroke="#333" stroke-width="2"/>
<text x="805.10" y="161.60" font-size="22.3" fill="#111111"> .5</text>
<path d="M763,0 L583,0 L583,1098 C540,1058 480,1018 412,979 C344,940 276,910 222,890 L222,1057 C320,1101 406,1156 486,1221 C566,1286 622,1349 646,1409 L763,1409 Z" transform="translate(805.10,161.60) scale(0.01089,-0.01089)" fill="#111111"/>
<line x1="841.6" y1="245.30" x2="845.6" y2="245.30" stroke="#333" stroke-width="2"/>
<text x="805.04" y="250.50" font-size="22.3" fill="#111111"> .0</text>
<path d="M763,0 L583,0 L583,1098 C540,1058 480,1018 412,979 C344,940 276,910 222,890 L222,1057 C320,1101 406,1156 486,1221 C566,1286 622,1349 646,1409 L763,1409 Z" transform="translate(805.04,250.50) scale(0.01089,-0.01089)" fill="#111111"/>
<line x1="841.6" y1="334.20" x2="845.6" y2="334.20" stroke="#333" stroke-width="2"/>
<text x="805.10" y="339.40" font-size="22.3" fill="#111111">0.5</text>
<line x1="885.40" y1="365.4" x2="885.40" y2="369.2" stroke="#333" stroke-width="2"/>
<text x="879.18" y="390.60" font-size="22.3" fill="#111111">0</text>
<line x1="996.60" y1="365.4" x2="996.60" y2="369.2" stroke="#333" stroke-width="2"/>
<text x="991.24" y="390.60" font-size="22.3" fill="#111111"> </text>
<path d="M763,0 L583,0 L583,1098 C540,1058 480,1018 412,979 C344,940 276,910 222,890 L222,1057 C320,1101 406,1156 486,1221 C566,1286 622,1349 646,1409 L763,1409 Z" transform="translate(991.24,390.60) scale(0.01089,-0.01089)" fill="#111111"/>
<line x1="1107.80" y1="365.4" x2="1107.80" y2="369.2" stroke="#333" stroke-width="2"/>
<text x="1101.61" y="390.60" font-size="22.3" fill="#111111">2</text>
<line x1="1219.00" y1="365.4" x2="1219.00" y2="369.2" stroke="#333" stroke-width="2"/>
<text x="1212.87" y="390.60" font-size="22.3" fill="#111111">3</text>
<line x1="1330.20" y1="365.4" x2="1330.20" y2="369.2" stroke="#333" stroke-width="2"/>
<text x="1324.07" y="390.60" font-size="22.3" fill="#111111">4</text>
<line x1="1441.40" y1="365.4" x2="1441.40" y2="369.2" stroke="#333" stroke-width="2"/>
<text x="1435.21" y="390.60" font-size="22.3" fill="#111111">5</text>
<text x="768.07" y="390.60" font-size="25.7" fill="#111111">Weeks</text>
<g transform="translate(784.90,359.57) rotate(-90)"><text x="0.00" y="0.00" font-size="26.5" fill="#111111">AR staining (Fold Change)</text></g>
<text x="854.94" y="180.50" font-size="24" fill="#111111">p = 0. 5 </text>
<path d="M763,0 L583,0 L583,1098 C540,1058 480,1018 412,979 C344,940 276,910 222,890 L222,1057 C320,1101 406,1156 486,1221 C566,1286 622,1349 646,1409 L763,1409 Z" transform="translate(915.66,180.50) scale(0.01172,-0.01172)" fill="#111111"/>
<path d="M763,0 L583,0 L583,1098 C540,1058 480,1018 412,979 C344,940 276,910 222,890 L222,1057 C320,1101 406,1156 486,1221 C566,1286 622,1349 646,1409 L763,1409 Z" transform="translate(942.35,180.50) scale(0.01172,-0.01172)" fill="#111111"/>
<text x="949.74" y="144.60" font-size="24" fill="#111111">p = 0.027</text>
<text x="1048.04" y="26.80" font-size="24" fill="#111111">p = 0.032</text>
<text x="1155.84" y="85.80" font-size="24" fill="#111111">p &lt; 0.000 </text>
<path d="M763,0 L583,0 L583,1098 C540,1058 480,1018 412,979 C344,940 276,910 222,890 L222,1057 C320,1101 406,1156 486,1221 C566,1286 622,1349 646,1409 L763,1409 Z" transform="translate(1256.60,85.80) scale(0.01172,-0.01172)" fill="#111111"/>
<text x="1281.34" y="155.30" font-size="24" fill="#111111">p = 0.078</text>
<text x="1390.24" y="194.90" font-size="24" fill="#111111">p = 0.372</text>
<rect x="1376.9" y="27" width="32.6" height="32.6" fill="#CAA2D7"/>
<line x1="1380" y1="43.3" x2="1406.3" y2="43.3" stroke="#7C1A9B" stroke-width="4.5"/>
<circle cx="1393.2" cy="43.3" r="5" fill="#7C1A9B"/>
<rect x="1376.9" y="66" width="32.6" height="32.2" fill="#CBCACA"/>
<line x1="1380" y1="81.9" x2="1406.3" y2="81.9" stroke="#807C7A" stroke-width="5.0"/>
<circle cx="1393.2" cy="81.9" r="5" fill="#807C7A"/>
<text x="1416.09" y="50.00" font-size="22" fill="#111111">Proband</text>
<text x="1416.20" y="85.90" font-size="22" fill="#111111">Control</text>
<text x="-0.94" y="474.60" font-size="33.5" font-weight="bold" fill="#111111">c</text>
<g transform="translate(40,453.3) scale(0.13351)">
<path d="M318,68 C319.0,64.7 315.2,46.5 337,60 C358.8,73.5 419.8,128.0 449,149 C478.2,170.0 491.2,175.7 512,186 C532.8,196.3 547.0,205.2 574,211 C601.0,216.8 643.0,220.0 674,221 C705.0,222.0 729.0,220.8 760,217 C791.0,213.2 833.3,205.2 860,198 C886.7,190.8 900.0,183.5 920,174 C940.0,164.5 960.0,152.0 980,141 C1000.0,130.0 1021.3,118.5 1040,108 C1058.7,97.5 1077.7,86.2 1092,78 C1106.3,69.8 1118.2,61.8 1126,59 C1133.8,56.2 1137.7,58.2 1139,61 C1140.3,63.8 1143.0,65.5 1134,76 C1125.0,86.5 1104.7,106.5 1085,124 C1065.3,141.5 1034.8,163.0 1016,181 C997.2,199.0 983.0,218.0 972,232 C961.0,246.0 955.8,253.7 950,265 C944.2,276.3 939.2,289.2 937,300 C934.8,310.8 934.3,317.7 937,330 C939.7,342.3 945.0,362.8 953,374 C961.0,385.2 974.5,390.5 985,397 C995.5,403.5 1000.2,405.3 1016,413 C1031.8,420.7 1060.7,434.0 1080,443 C1099.3,452.0 1120.5,461.3 1132,467 C1143.5,472.7 1146.0,473.3 1149,477 C1152.0,480.7 1151.7,486.2 1150,489 C1148.3,491.8 1150.7,496.0 1139,494 C1127.3,492.0 1100.5,482.8 1080,477 C1059.5,471.2 1033.2,461.7 1016,459 C998.8,456.3 986.3,459.0 977,461 C967.7,463.0 964.3,466.2 960,471 C955.7,475.8 952.2,483.2 951,490 C949.8,496.8 949.8,502.8 953,512 C956.2,521.2 962.2,534.5 970,545 C977.8,555.5 986.7,562.5 1000,575 C1013.3,587.5 1035.3,607.5 1050,620 C1064.7,632.5 1079.5,643.0 1088,650 C1096.5,657.0 1099.7,658.5 1101,662 C1102.3,665.5 1099.2,670.0 1096,671 C1092.8,672.0 1098.0,677.2 1082,668 C1066.0,658.8 1027.0,634.2 1000,616 C973.0,597.8 946.7,575.0 920,559 C893.3,543.0 866.7,531.3 840,520 C813.3,508.7 786.7,499.0 760,491 C733.3,483.0 706.8,476.7 680,472 C653.2,467.3 627.0,465.7 599,463 C571.0,460.3 547.3,456.2 512,456 C476.7,455.8 428.7,456.8 387,462 C345.3,467.2 305.2,475.2 262,487 C218.8,498.8 153.3,525.2 128,533 C102.7,540.8 113.0,535.7 110,534 C107.0,532.3 95.0,534.0 110,523 C125.0,512.0 166.3,486.5 200,468 C233.7,449.5 287.0,427.7 312,412 C337.0,396.3 341.2,387.5 350,374 C358.8,360.5 364.7,345.2 365,331 C365.3,316.8 360.3,303.7 352,289 C343.7,274.3 323.7,253.0 315,243 C306.3,233.0 301.7,233.2 300,229 C298.3,224.8 301.7,219.5 305,218 C308.3,216.5 311.5,217.0 320,220 C328.5,223.0 340.7,230.2 356,236 C371.3,241.8 399.3,252.7 412,255 C424.7,257.3 426.3,255.5 432,250 C437.7,244.5 444.5,231.7 446,222 C447.5,212.3 444.5,201.0 441,192 C437.5,183.0 436.0,179.8 425,168 C414.0,156.2 390.7,135.7 375,121 C359.3,106.3 340.5,88.8 331,80 C321.5,71.2 317.0,71.3 318,68 Z" fill="#B8703D" stroke="#8C2A17" stroke-width="10" stroke-linejoin="round"/>
<ellipse cx="652" cy="349" rx="103" ry="56" fill="#A9541B" stroke="#B26322" stroke-width="5"/>
</g>
<text x="218.82" y="500.70" font-size="30.1" fill="#111111">Fibroblasts</text>
<text x="51.21" y="583.40" font-size="29.3" fill="#111111">Osteogenesis</text>
<line x1="113.9" y1="618.4" x2="198.70000000000002" y2="618.4" stroke="#111" stroke-width="2.0"/>
<path d="M210,618.4 L195.3,610.1999999999999 L197.70000000000002,618.4 L195.3,626.6 Z" fill="#111"/>
<text x="52.03" y="681.20" font-size="23.5" fill="#111111">GANT6 </text>
<path d="M763,0 L583,0 L583,1098 C540,1058 480,1018 412,979 C344,940 276,910 222,890 L222,1057 C320,1101 406,1156 486,1221 C566,1286 622,1349 646,1409 L763,1409 Z" transform="translate(130.38,681.20) scale(0.01147,-0.01147)" fill="#111111"/>
<path d="M134.6,637.8 C152,636 163,660 170.7,686" fill="none" stroke="#D9261C" stroke-width="2.8"/>
<line x1="156.4" y1="693.6" x2="185" y2="682.1" stroke="#D9261C" stroke-width="3.3"/>
<ellipse cx="182.3" cy="744.9" rx="46.6" ry="49.4" fill="#F29BCA" stroke="#9C9C9C" stroke-width="1.2"/>
<text x="166.21" y="750.70" font-size="20.6" font-weight="bold" fill="#111111">HH</text>
<path d="M282.6,576.3 L282.6,595.8 L380.7,595.8 L380.7,576.3" fill="none" stroke="#111" stroke-width="1.7"/>
<line x1="331.8" y1="576.3" x2="331.8" y2="595.8" stroke="#111" stroke-width="1.7"/>
<text x="285.72" y="587.90" font-size="29.3" fill="#111111"> </text>
<path d="M763,0 L583,0 L583,1098 C540,1058 480,1018 412,979 C344,940 276,910 222,890 L222,1057 C320,1101 406,1156 486,1221 C566,1286 622,1349 646,1409 L763,1409 Z" transform="translate(285.72,587.90) scale(0.01431,-0.01431)" fill="#111111"/>
<text x="334.54" y="587.90" font-size="29.3" fill="#111111">2</text>
<text x="383.70" y="587.90" font-size="29.3" fill="#111111">3</text>
<text x="259.34" y="634.30" font-size="29.3" fill="#111111">Time points</text>
<text x="286.16" y="670.80" font-size="29.5" fill="#111111">(weeks)</text>
<line x1="332.9" y1="688.6" x2="332.9" y2="720.9999999999999" stroke="#111" stroke-width="2.0"/>
<path d="M332.9,732.3 L324.7,717.5999999999999 L332.9,719.9999999999999 L341.09999999999997,717.5999999999999 Z" fill="#111"/>
<text x="259.33" y="764.90" font-size="29.3" fill="#111111">AR staining</text>
<text x="490.36" y="475.20" font-size="33.5" font-weight="bold" fill="#111111">d</text>
<text x="680.44" y="474.00" font-size="27.4" fill="#111111">HH blocking</text>
<line x1="576" y1="523" x2="913.5" y2="523" stroke="#111" stroke-width="1.8" stroke-dasharray="6.2,5.8"/>
<rect x="601.70" y="523.50" width="50.20" height="279.90" fill="#CACACA" stroke="#858585" stroke-width="3.4"/>
<rect x="660.10" y="523.50" width="50.90" height="279.90" fill="#CBA2D7" stroke="#7E1A9A" stroke-width="3.4"/>
<rect x="777.40" y="691.20" width="49.50" height="112.20" fill="#CACACA" stroke="#858585" stroke-width="3.4"/>
<rect x="838.80" y="657.50" width="48.90" height="145.90" fill="#CBA2D7" stroke="#7E1A9A" stroke-width="3.4"/>
<path d="M802,690 L802,682 M797,682 L807,682" stroke="#858585" stroke-width="3" fill="none"/>
<path d="M862.9,656.5 L862.9,650.3 M857.7,650.3 L868.3,650.3" stroke="#7E1A9A" stroke-width="3" fill="none"/>
<path d="M575.3,463.8 L575.3,803.4 L911.4,803.4" fill="none" stroke="#111" stroke-width="2.4"/>
<line x1="569" y1="467.08" x2="575.3" y2="467.08" stroke="#333" stroke-width="1.8"/>
<text x="539.84" y="472.88" font-size="19" fill="#111111"> .2</text>
<path d="M763,0 L583,0 L583,1098 C540,1058 480,1018 412,979 C344,940 276,910 222,890 L222,1057 C320,1101 406,1156 486,1221 C566,1286 622,1349 646,1409 L763,1409 Z" transform="translate(539.84,472.88) scale(0.00928,-0.00928)" fill="#111111"/>
<line x1="569" y1="523.00" x2="575.3" y2="523.00" stroke="#333" stroke-width="1.8"/>
<text x="558.22" y="528.80" font-size="19" fill="#111111"> </text>
<path d="M763,0 L583,0 L583,1098 C540,1058 480,1018 412,979 C344,940 276,910 222,890 L222,1057 C320,1101 406,1156 486,1221 C566,1286 622,1349 646,1409 L763,1409 Z" transform="translate(558.22,528.80) scale(0.00928,-0.00928)" fill="#111111"/>
<line x1="569" y1="578.92" x2="575.3" y2="578.92" stroke="#333" stroke-width="1.8"/>
<text x="539.70" y="584.72" font-size="19" fill="#111111">0.8</text>
<line x1="569" y1="634.84" x2="575.3" y2="634.84" stroke="#333" stroke-width="1.8"/>
<text x="539.70" y="640.64" font-size="19" fill="#111111">0.6</text>
<line x1="569" y1="690.76" x2="575.3" y2="690.76" stroke="#333" stroke-width="1.8"/>
<text x="539.41" y="696.56" font-size="19" fill="#111111">0.4</text>
<line x1="569" y1="746.68" x2="575.3" y2="746.68" stroke="#333" stroke-width="1.8"/>
<text x="539.84" y="752.48" font-size="19" fill="#111111">0.2</text>
<line x1="569" y1="802.60" x2="575.3" y2="802.60" stroke="#333" stroke-width="1.8"/>
<text x="555.47" y="808.40" font-size="19" fill="#111111">0</text>
<line x1="655.7" y1="803.4" x2="655.7" y2="810" stroke="#333" stroke-width="1.8"/>
<line x1="831.4" y1="803.4" x2="831.4" y2="810" stroke="#333" stroke-width="1.8"/>
<text x="626.65" y="832.90" font-size="23.6" fill="#111111">MOCK</text>
<text x="757.41" y="833.00" font-size="23.8" fill="#111111">GANT6  (48h)</text>
<path d="M763,0 L583,0 L583,1098 C540,1058 480,1018 412,979 C344,940 276,910 222,890 L222,1057 C320,1101 406,1156 486,1221 C566,1286 622,1349 646,1409 L763,1409 Z" transform="translate(836.76,833.00) scale(0.01162,-0.01162)" fill="#111111"/>
<g transform="translate(527.20,774.90) rotate(-90)"><text x="0.00" y="0.00" font-size="24.2" fill="#111111">Fold change (GLI /TBP)</text><path d="M763,0 L583,0 L583,1098 C540,1058 480,1018 412,979 C344,940 276,910 222,890 L222,1057 C320,1101 406,1156 486,1221 C566,1286 622,1349 646,1409 L763,1409 Z" transform="translate(186.99,0.00) scale(0.01182,-0.01182)" fill="#111111"/></g>
<rect x="860.65" y="538.55" width="29.40" height="30.75" fill="#CBA2D7" stroke="#7E1A9A" stroke-width="3.3"/>
<rect x="860.65" y="572.65" width="29.40" height="30.85" fill="#CACACA" stroke="#858585" stroke-width="3.3"/>
<text x="899.02" y="558.30" font-size="24" fill="#111111">Pb</text>
<text x="899.30" y="592.90" font-size="24" fill="#111111">Ct</text>
<text x="976.56" y="475.00" font-size="33.5" font-weight="bold" fill="#111111">e</text>
<line x1="1091" y1="468.9" x2="1423.3" y2="468.9" stroke="#111" stroke-width="1.9" stroke-dasharray="7.5,6.7"/>
<path d="M1090.5,469.3 L1090.5,806.3 L1423.4,806.3" fill="none" stroke="#111" stroke-width="2.4"/>
<line x1="1083.6" y1="469.3" x2="1090.5" y2="469.3" stroke="#333" stroke-width="1.8"/>
<text x="1062.74" y="473.60" font-size="23.5" fill="#111111"> </text>
<path d="M763,0 L583,0 L583,1098 C540,1058 480,1018 412,979 C344,940 276,910 222,890 L222,1057 C320,1101 406,1156 486,1221 C566,1286 622,1349 646,1409 L763,1409 Z" transform="translate(1062.74,473.60) scale(0.01147,-0.01147)" fill="#111111"/>
<line x1="1083.6" y1="536.0" x2="1090.5" y2="536.0" stroke="#333" stroke-width="1.8"/>
<text x="1045.43" y="542.10" font-size="23.5" fill="#111111">0.8</text>
<line x1="1083.6" y1="601.4" x2="1090.5" y2="601.4" stroke="#333" stroke-width="1.8"/>
<text x="1045.43" y="608.60" font-size="23.5" fill="#111111">0.6</text>
<line x1="1083.6" y1="671.4" x2="1090.5" y2="671.4" stroke="#333" stroke-width="1.8"/>
<text x="1045.08" y="678.60" font-size="23.5" fill="#111111">0.4</text>
<line x1="1083.6" y1="742.6" x2="1090.5" y2="742.6" stroke="#333" stroke-width="1.8"/>
<text x="1045.61" y="751.10" font-size="23.5" fill="#111111">0.2</text>
<line x1="1083.6" y1="804.6" x2="1090.5" y2="804.6" stroke="#333" stroke-width="1.8"/>
<text x="1064.94" y="812.10" font-size="23.5" fill="#111111">0</text>
<line x1="1149" y1="807.4" x2="1149" y2="813.6" stroke="#333" stroke-width="1.8"/>
<text x="1143.23" y="839.00" font-size="24" fill="#111111"> </text>
<path d="M763,0 L583,0 L583,1098 C540,1058 480,1018 412,979 C344,940 276,910 222,890 L222,1057 C320,1101 406,1156 486,1221 C566,1286 622,1349 646,1409 L763,1409 Z" transform="translate(1143.23,839.00) scale(0.01172,-0.01172)" fill="#111111"/>
<line x1="1257.2" y1="807.4" x2="1257.2" y2="813.6" stroke="#333" stroke-width="1.8"/>
<text x="1250.54" y="839.00" font-size="24" fill="#111111">2</text>
<line x1="1362.7" y1="807.4" x2="1362.7" y2="813.6" stroke="#333" stroke-width="1.8"/>
<text x="1356.10" y="839.00" font-size="24" fill="#111111">3</text>
<text x="1038.38" y="835.50" font-size="23.9" fill="#111111">Weeks</text>
<g transform="translate(1005.40,705.37) rotate(-90)"><text x="0.00" y="0.00" font-size="27.2" fill="#111111">AR staining</text></g>
<g transform="translate(1038.30,772.93) rotate(-90)"><text x="0.00" y="0.00" font-size="27.6" fill="#111111">(MOCK/GANT6  ratio)</text><path d="M763,0 L583,0 L583,1098 C540,1058 480,1018 412,979 C344,940 276,910 222,890 L222,1057 C320,1101 406,1156 486,1221 C566,1286 622,1349 646,1409 L763,1409 Z" transform="translate(191.68,0.00) scale(0.01348,-0.01348)" fill="#111111"/></g>
<path d="M1126.3,476.4 L1126.3,471.1 M1120.3,471.1 L1132.2,471.1 M1126.3,606 L1126.3,630.2 M1120.3,630.2 L1132.2,630.2" stroke="#858585" stroke-width="2.2" fill="none"/>
<rect x="1104.95" y="477.55" width="42.70" height="127.30" fill="#CACACA" stroke="#858585" stroke-width="2.3"/>
<line x1="1104.9" y1="496.4" x2="1147.7" y2="496.4" stroke="#858585" stroke-width="2.2"/>
<circle cx="1126.3" cy="478.1" r="3.3" fill="#858585"/>
<circle cx="1126.3" cy="489.8" r="3.3" fill="#858585"/>
<circle cx="1126.3" cy="497.3" r="3.3" fill="#858585"/>
<circle cx="1126.3" cy="526.6" r="3.3" fill="#858585"/>
<circle cx="1126.3" cy="596" r="3.3" fill="#858585"/>
<circle cx="1126.3" cy="612.6" r="3.3" fill="#858585"/>
<path d="M1121.1,526.5 L1131.5,536.9000000000001 M1121.1,536.9000000000001 L1131.5,526.5" stroke="#858585" stroke-width="2.5"/>
<rect x="1151.50" y="500.60" width="43.30" height="91.30" fill="#CBA2D7" stroke="#7E1A9A" stroke-width="3.0"/>
<line x1="1151" y1="501.5" x2="1195.3" y2="501.5" stroke="#7E1A9A" stroke-width="4.8"/>
<circle cx="1173" cy="501.3" r="3" fill="#7E1A9A"/>
<path d="M1167.3999999999999,526.9 L1177.8,537.3000000000001 M1167.3999999999999,537.3000000000001 L1177.8,526.9" stroke="#7E1A9A" stroke-width="2.5"/>
<rect x="1212.80" y="500.40" width="43.20" height="4.00" fill="#CACACA" stroke="#858585" stroke-width="2.6"/>
<path d="M1230.2,498.09999999999997 L1238.8,506.7 M1230.2,506.7 L1238.8,498.09999999999997" stroke="#858585" stroke-width="2.3"/>
<rect x="1257.3" y="492.3" width="46.5" height="6.6" fill="#7E1A9A"/>
<path d="M1275.4,490.9 L1284.6,500.1 M1275.4,500.1 L1284.6,490.9" stroke="#7E1A9A" stroke-width="2.3"/>
<path d="M1339.8,493.5 L1339.8,489.8 M1334,489.8 L1346.1,489.8 M1339.8,507.2 L1339.8,516.3 M1334,516.3 L1346.1,516.3" stroke="#858585" stroke-width="2.2" fill="none"/>
<rect x="1318.15" y="494.65" width="43.40" height="11.40" fill="#CACACA" stroke="#858585" stroke-width="2.3"/>
<rect x="1318" y="494.5" width="43.7" height="4" fill="#858585"/>
<circle cx="1339.8" cy="489.6" r="3" fill="#858585"/>
<circle cx="1339.8" cy="494" r="3" fill="#858585"/>
<circle cx="1339.8" cy="506.5" r="3" fill="#858585"/>
<path d="M1335.5,498.3 L1343.5,506.3 M1335.5,506.3 L1343.5,498.3" stroke="#858585" stroke-width="2.3"/>
<rect x="1365.40" y="499.40" width="42.70" height="17.10" fill="#CBA2D7" stroke="#7E1A9A" stroke-width="2.4"/>
<rect x="1365.2" y="512.6" width="43.1" height="5" fill="#7E1A9A"/>
<path d="M1381.7,504.0 L1390.7,513.0 M1381.7,513.0 L1390.7,504.0" stroke="#7E1A9A" stroke-width="2.4"/>
</svg>
</body></html>
